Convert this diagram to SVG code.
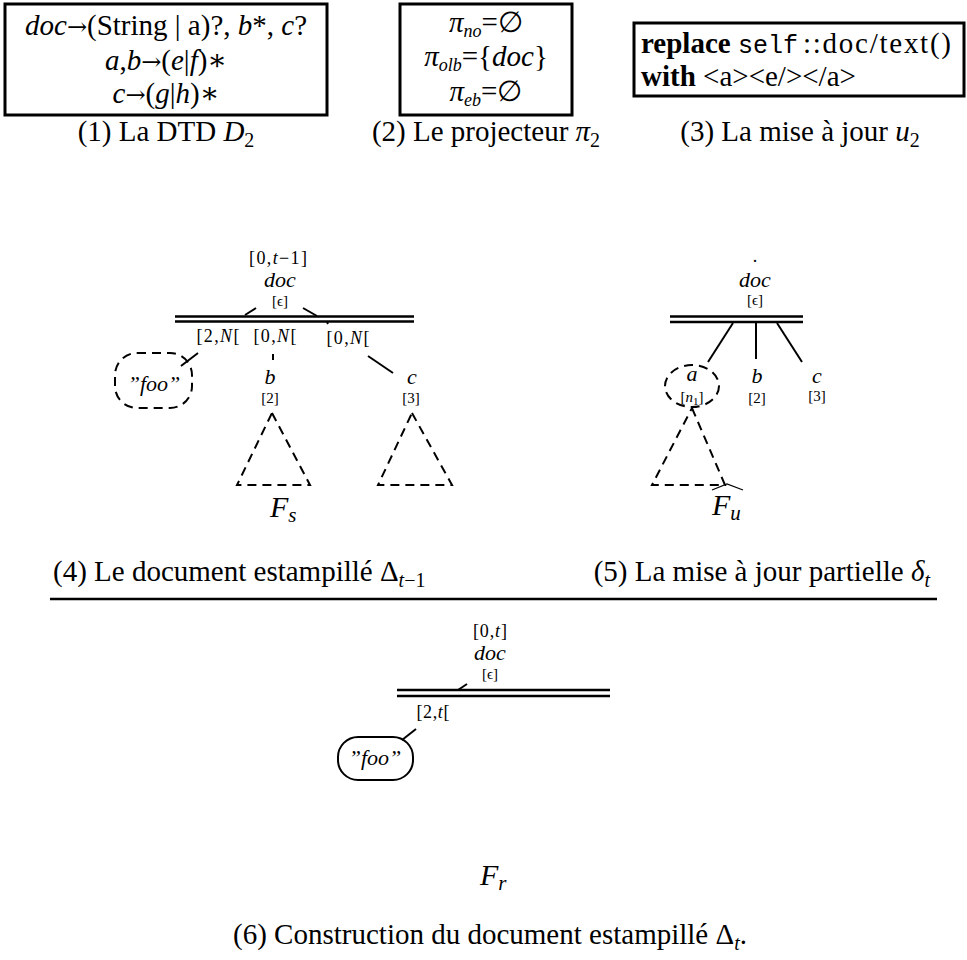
<svg xmlns="http://www.w3.org/2000/svg" width="967" height="960" viewBox="0 0 967 960">
<style>
text { font-family: "Liberation Serif", "DejaVu Serif", serif; fill: #000; }
.big { font-size: 29px; }
.m { text-anchor: middle; }
.i { font-style: italic; }
.b { font-weight: bold; }
.ar { font-family: "DejaVu Serif", serif; font-size: 24px; }
.tt { font-family: "Liberation Mono", "DejaVu Sans Mono", monospace; font-size: 25px; }
.box { fill: none; stroke: #000; stroke-width: 3; }
.edge { stroke: #000; stroke-width: 2; fill: none; }
.dbl { stroke: #000; stroke-width: 2.6; fill: none; }
.dash { stroke: #000; stroke-width: 2; fill: none; stroke-dasharray: 9 6; }
.solid { stroke: #000; stroke-width: 2; fill: none; }
.lab { font-size: 18px; }
.nm { font-size: 22px; font-style: italic; }
.sm { font-size: 15px; }
.F { font-size: 30px; font-style: italic; }
</style>

<g id="dtd">
<rect class="box" x="5" y="4" width="322" height="111"/>
<text class="big m" x="166" y="35"><tspan class="i">doc</tspan><tspan class="ar">→</tspan>(String | a)?, <tspan class="i">b</tspan>*, <tspan class="i">c</tspan>?</text>
<text class="big m" x="166" y="70"><tspan class="i">a</tspan>,<tspan class="i">b</tspan><tspan class="ar">→</tspan>(<tspan class="i">e</tspan>|<tspan class="i">f</tspan>)∗</text>
<text class="big m" x="166" y="103"><tspan class="i">c</tspan><tspan class="ar">→</tspan>(<tspan class="i">g</tspan>|<tspan class="i">h</tspan>)∗</text>
<text class="big m" x="166" y="141">(1) La DTD <tspan class="i">D</tspan><tspan font-size="20" dy="6">2</tspan></text>
</g>

<g id="projecteur">
<rect class="box" x="400" y="4" width="172" height="111"/>
<text class="big m" x="486" y="32"><tspan class="i">π</tspan><tspan class="i" font-size="18" dy="5">no</tspan><tspan dy="-5">=∅</tspan></text>
<text class="big m" x="486" y="66"><tspan class="i">π</tspan><tspan class="i" font-size="18" dy="5">olb</tspan><tspan dy="-5">={</tspan><tspan class="i">doc</tspan>}</text>
<text class="big m" x="486" y="101"><tspan class="i">π</tspan><tspan class="i" font-size="18" dy="5">eb</tspan><tspan dy="-5">=∅</tspan></text>
<text class="big m" x="486" y="141">(2) Le projecteur <tspan class="i">π</tspan><tspan font-size="20" dy="6">2</tspan></text>
</g>

<g id="maj">
<rect class="box" x="634" y="23" width="330" height="73"/>
<text class="big b" x="641" y="53">replace</text>
<text class="tt" x="738" y="53">self</text>
<text class="big" x="803" y="53" textLength="148" lengthAdjust="spacing">::doc/text()</text>
<text class="big" x="641" y="86"><tspan class="b">with</tspan> &lt;a&gt;&lt;e/&gt;&lt;/a&gt;</text>
<text class="big m" x="800" y="141">(3) La mise à jour <tspan class="i">u</tspan><tspan font-size="20" dy="6">2</tspan></text>
</g>

<g id="connectors">
<line class="dbl" x1="175" y1="316.5" x2="414" y2="316.5"/>
<line class="dbl" x1="175" y1="321.5" x2="414" y2="321.5"/>
<line class="edge" x1="245" y1="315" x2="256" y2="308"/>
<line class="edge" x1="303" y1="308" x2="317" y2="316"/>
<line class="edge" x1="327" y1="322" x2="328" y2="324"/>
<line class="edge" x1="198" y1="353" x2="181" y2="366"/>
<line class="edge" x1="273" y1="354" x2="273" y2="360"/>
<line class="edge" x1="368" y1="356" x2="393" y2="373"/>
<line class="dbl" x1="670" y1="316.5" x2="803" y2="316.5"/>
<line class="dbl" x1="670" y1="322" x2="803" y2="322"/>
<line class="edge" x1="733" y1="323" x2="708" y2="362"/>
<line class="edge" x1="756" y1="323" x2="756" y2="359"/>
<line class="edge" x1="777" y1="323" x2="802" y2="362"/>
<line class="dbl" x1="397" y1="690" x2="610" y2="690"/>
<line class="dbl" x1="397" y1="696" x2="610" y2="696"/>
<line class="edge" x1="458" y1="690" x2="467" y2="684"/>
<line class="edge" x1="416" y1="729" x2="402" y2="740"/>
</g>

<g id="doc4">
<text class="lab m" x="278" y="264" textLength="58" lengthAdjust="spacing">[0,<tspan class="i">t</tspan>−1]</text>
<text class="nm m" x="280" y="287">doc</text>
<text class="sm m" x="280" y="306">[ϵ]</text>
<text class="lab m" x="218" y="342" textLength="43" lengthAdjust="spacing">[2,<tspan class="i">N</tspan>[</text>
<text class="lab m" x="275" y="342" textLength="43" lengthAdjust="spacing">[0,<tspan class="i">N</tspan>[</text>
<text class="lab m" x="348" y="344" textLength="43" lengthAdjust="spacing">[0,<tspan class="i">N</tspan>[</text>
</g>
<g id="foo4">
<rect class="dash" x="115" y="353" width="77" height="55" rx="22"/>
<text class="nm m" x="154" y="391">”foo”</text>
</g>
<g id="b4">
<text class="nm m" x="270" y="384">b</text>
<text class="sm m" x="270" y="403">[2]</text>
<polygon class="dash" points="272,413 310,485 237,485"/>
</g>
<g id="c4">
<text class="nm m" x="412" y="384">c</text>
<text class="sm m" x="411" y="403">[3]</text>
<polygon class="dash" points="412,413 452,485 378,485"/>
</g>
<text class="F" x="270" y="517">F<tspan font-size="21" dy="5">s</tspan></text>

<g id="doc5">
<text class="lab m" x="755" y="262">.</text>
<text class="nm m" x="755" y="287">doc</text>
<text class="sm m" x="755" y="305">[ϵ]</text>
</g>
<g id="a5">
<ellipse class="dash" cx="692" cy="386" rx="27" ry="21"/>
<text class="nm m" x="692" y="381">a</text>
<text class="sm m" x="692" y="402">[<tspan class="i">n</tspan><tspan font-size="11" dy="3">1</tspan><tspan dy="-3">]</tspan></text>
<polygon class="dash" points="692,408 725,485 652,485"/>
</g>
<g id="b5">
<text class="nm m" x="757" y="383">b</text>
<text class="sm m" x="757" y="403">[2]</text>
</g>
<g id="c5">
<text class="nm m" x="817" y="383">c</text>
<text class="sm m" x="817" y="401">[3]</text>
</g>
<path d="M712,490 L727,484 L743,490" stroke="#000" stroke-width="1.2" fill="none"/>
<text class="F" x="712" y="515">F<tspan font-size="21" dy="5">u</tspan></text>

<g id="captions45">
<text class="big" x="53" y="581" font-size="28">(4) Le document estampillé Δ<tspan class="i" font-size="20" dy="6">t</tspan><tspan font-size="20">−1</tspan></text>
<text class="big" x="930" y="581" font-size="28" text-anchor="end">(5) La mise à jour partielle <tspan class="i">δ</tspan><tspan class="i" font-size="20" dy="6">t</tspan></text>
<line x1="50" y1="599" x2="937" y2="599" stroke="#000" stroke-width="2.6"/>
</g>

<g id="doc6">
<text class="lab m" x="490" y="637" textLength="34" lengthAdjust="spacing">[0,<tspan class="i">t</tspan>]</text>
<text class="nm m" x="490" y="660">doc</text>
<text class="sm m" x="490" y="679">[ϵ]</text>
<text class="lab m" x="433" y="718" textLength="33" lengthAdjust="spacing">[2,<tspan class="i">t</tspan>[</text>
</g>
<g id="foo6">
<rect class="solid" x="338" y="737" width="75" height="43" rx="20"/>
<text class="nm m" x="375" y="765">”foo”</text>
</g>
<text class="F" x="480" y="885">F<tspan font-size="21" dy="5">r</tspan></text>
<text class="big m" x="490" y="944">(6) Construction du document estampillé Δ<tspan class="i" font-size="20" dy="6">t</tspan><tspan dy="-6">.</tspan></text>
</svg>
